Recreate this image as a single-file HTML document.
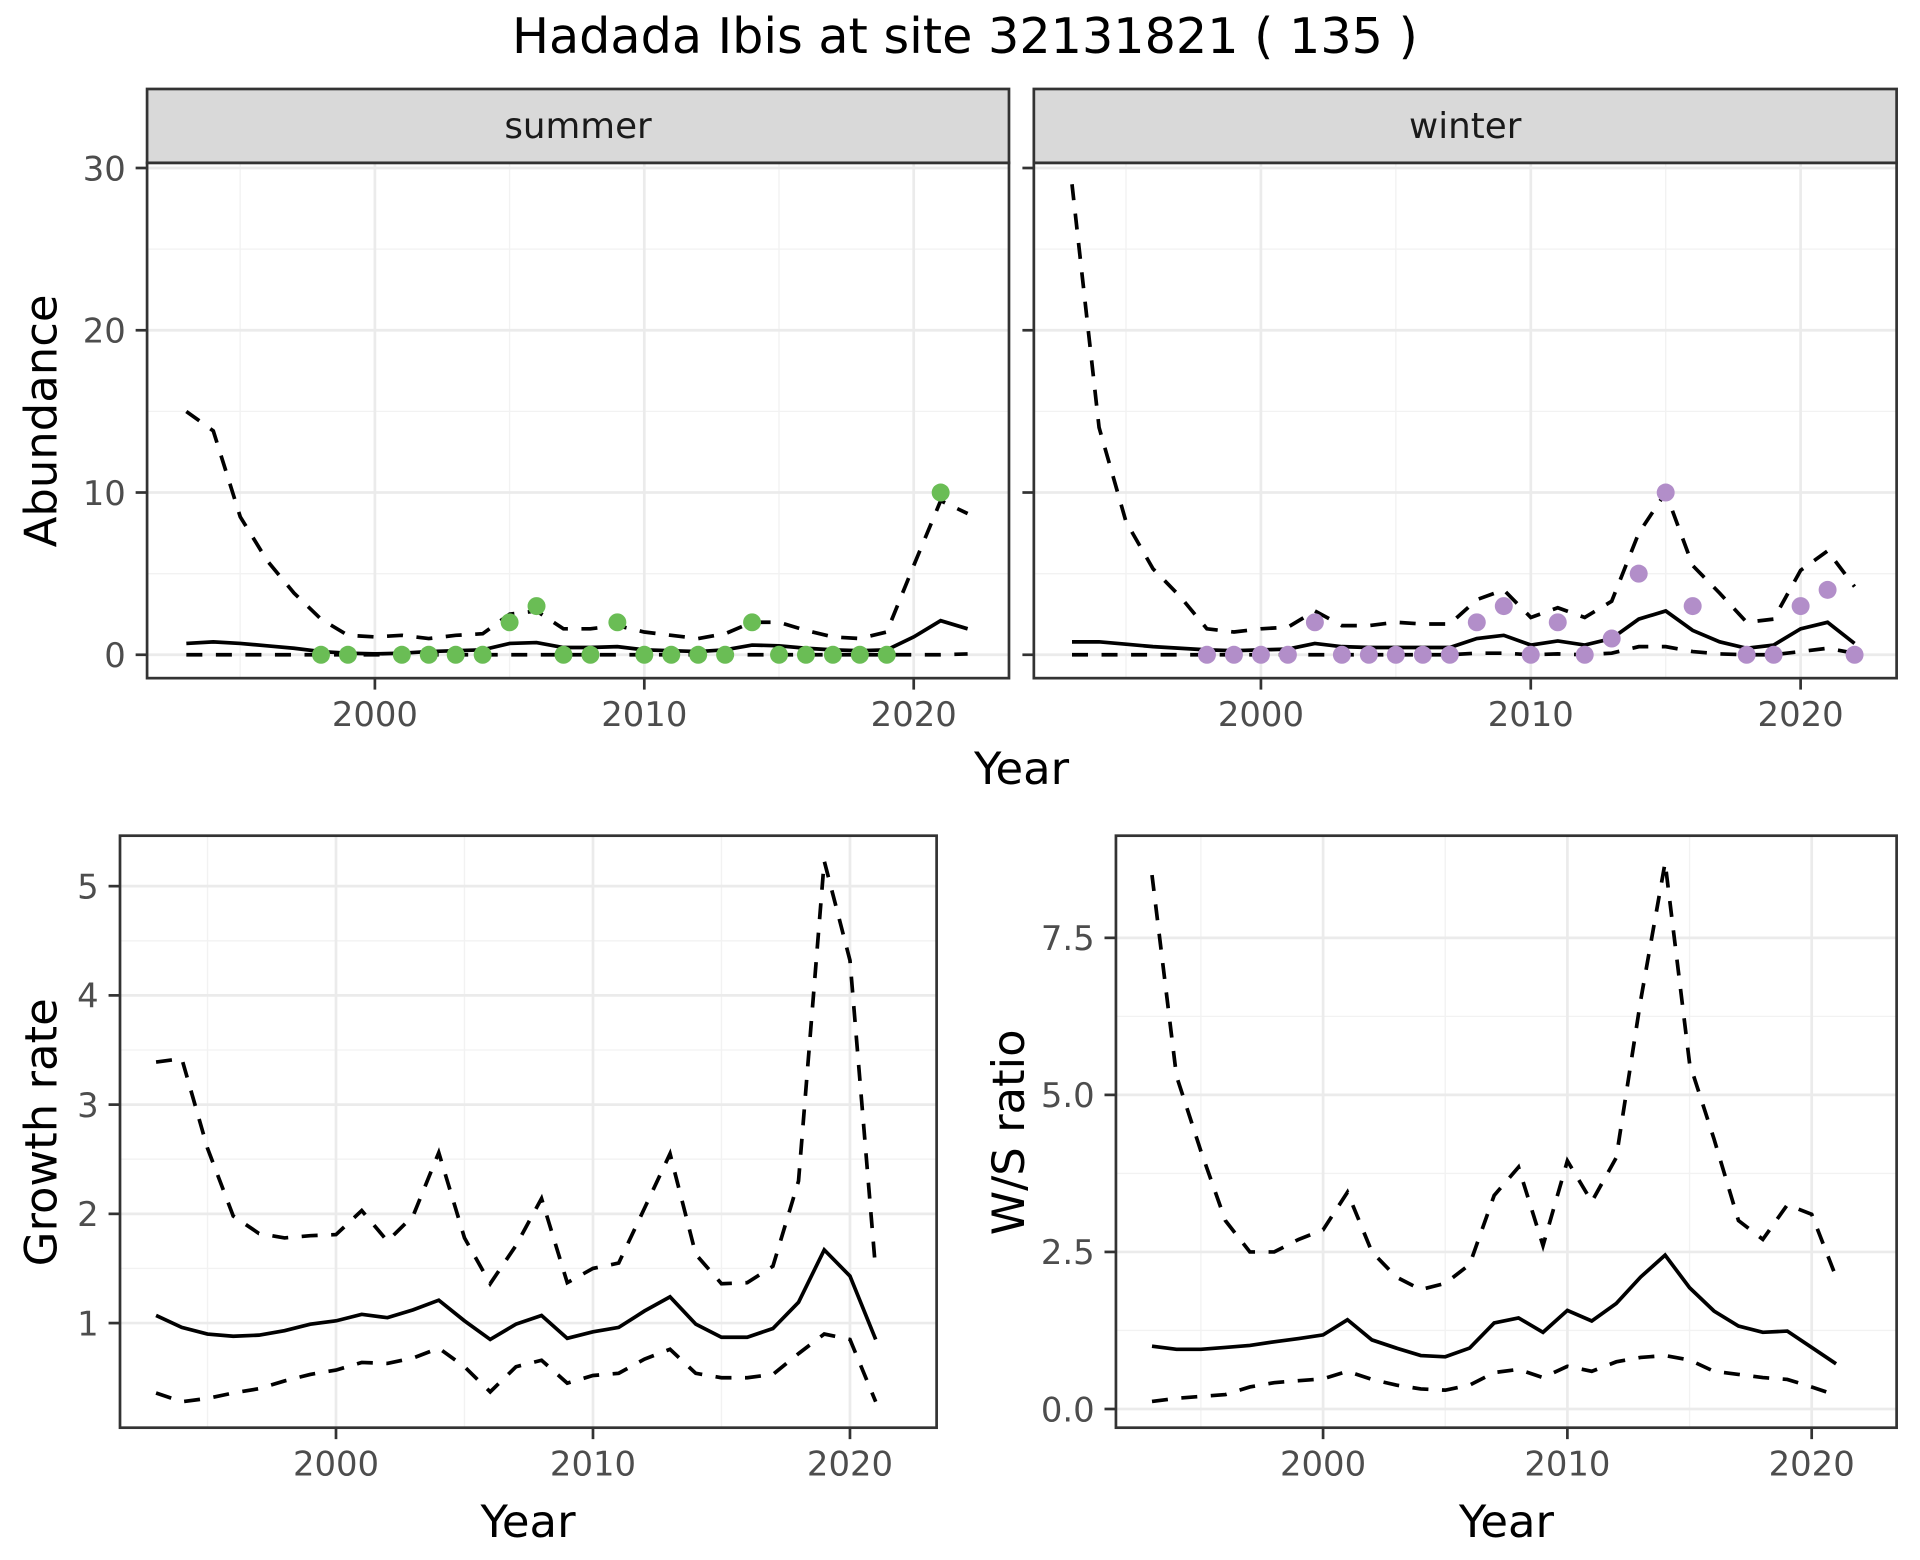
<!DOCTYPE html>
<html><head><meta charset="utf-8"><style>
html,body{margin:0;padding:0;background:#fff}
svg{display:block;font-family:"DejaVu Sans","Liberation Sans",sans-serif}
</style></head><body>
<svg id="c" width="1920" height="1560" viewBox="0 0 1560 1267.5" xmlns="http://www.w3.org/2000/svg">
<rect width="1560" height="1267.5" fill="#fff"/>
<text x="784" y="43" font-size="40" text-anchor="middle" fill="#000">Hadada Ibis at site 32131821 ( 135 )</text>
</svg>
<script>
const yrsA=[1993,1994,1995,1996,1997,1998,1999,2000,2001,2002,2003,2004,2005,2006,2007,2008,2009,2010,2011,2012,2013,2014,2015,2016,2017,2018,2019,2020,2021,2022];
const sumMean=[0.7,0.8,0.7,0.55,0.4,0.2,0.1,0.05,0.1,0.2,0.25,0.3,0.7,0.75,0.45,0.45,0.5,0.3,0.25,0.2,0.3,0.6,0.55,0.4,0.3,0.25,0.3,1.1,2.1,1.6];
const sumUpper=[15,13.8,8.5,5.8,3.8,2.2,1.2,1.1,1.2,1.0,1.2,1.3,2.5,2.7,1.6,1.6,1.8,1.4,1.2,1.0,1.3,2.0,2.0,1.5,1.1,1.0,1.4,5.5,9.5,8.7];
const sumLower=[0,0,0,0,0,0,0,0,0,0,0,0,0,0,0,0,0,0,0,0,0,0,0,0,0,0,0,0,0,0.05];
const sumPtYears=[1998,1999,2001,2002,2003,2004,2005,2006,2007,2008,2009,2010,2011,2012,2013,2014,2015,2016,2017,2018,2019,2021];
const sumPtVals=[0,0,0,0,0,0,2,3,0,0,2,0,0,0,0,2,0,0,0,0,0,10];
const winMean=[0.8,0.8,0.65,0.5,0.4,0.3,0.25,0.3,0.35,0.7,0.5,0.45,0.45,0.45,0.45,1.0,1.2,0.6,0.85,0.6,1.0,2.2,2.7,1.5,0.8,0.4,0.6,1.6,2.0,0.7];
const winUpper=[29,14,8.2,5.3,3.6,1.6,1.4,1.6,1.7,2.7,1.8,1.8,2.0,1.9,1.9,3.4,4.0,2.3,2.9,2.3,3.3,7.5,10.0,5.5,3.8,2.0,2.2,5.2,6.4,4.2];
const winLower=[0,0,0,0,0,0,0,0,0,0,0,0,0,0,0,0.1,0.1,0,0.05,0,0.1,0.5,0.5,0.2,0.05,0,0,0.2,0.4,0.1];
const winPtYears=[1998,1999,2000,2001,2002,2003,2004,2005,2006,2007,2008,2009,2010,2011,2012,2013,2014,2015,2016,2018,2019,2020,2021,2022];
const winPtVals=[0,0,0,0,2,0,0,0,0,0,2,3,0,2,0,1,5,10,3,0,0,3,4,0];
const yrsB=[1993,1994,1995,1996,1997,1998,1999,2000,2001,2002,2003,2004,2005,2006,2007,2008,2009,2010,2011,2012,2013,2014,2015,2016,2017,2018,2019,2020,2021];
const grMean=[1.07,0.96,0.9,0.88,0.89,0.93,0.99,1.02,1.08,1.05,1.12,1.21,1.02,0.85,0.99,1.07,0.86,0.92,0.96,1.11,1.24,0.99,0.87,0.87,0.95,1.19,1.67,1.43,0.85];
const grUpper=[3.39,3.42,2.6,1.98,1.82,1.78,1.8,1.81,2.03,1.75,1.98,2.56,1.78,1.36,1.71,2.14,1.37,1.5,1.55,2.05,2.55,1.63,1.36,1.37,1.52,2.3,5.23,4.32,1.48];
const grLower=[0.36,0.28,0.31,0.36,0.4,0.47,0.53,0.57,0.64,0.63,0.68,0.77,0.6,0.37,0.6,0.66,0.45,0.52,0.54,0.67,0.76,0.54,0.5,0.5,0.53,0.72,0.9,0.85,0.28];
const wsMean=[1.0,0.95,0.95,0.98,1.01,1.07,1.12,1.18,1.42,1.1,0.97,0.85,0.83,0.97,1.37,1.45,1.22,1.57,1.4,1.68,2.1,2.45,1.93,1.56,1.32,1.22,1.24,0.98,0.72];
const wsUpper=[8.5,5.3,4.1,3.0,2.5,2.5,2.7,2.85,3.45,2.5,2.1,1.9,2.0,2.3,3.4,3.85,2.6,3.95,3.3,4.0,6.5,8.7,5.5,4.3,3.0,2.7,3.25,3.1,2.1];
const wsLower=[0.12,0.17,0.2,0.23,0.35,0.42,0.45,0.48,0.6,0.47,0.38,0.32,0.3,0.38,0.58,0.63,0.5,0.68,0.6,0.75,0.82,0.85,0.78,0.6,0.55,0.5,0.47,0.35,0.22];
const xTicks=[2000,2010,2020];
const xMinor=[1995,2005,2015];
const abTicks=[0,10,20,30];
const abMinor=[5,15,25];
const grTicks=[1,2,3,4,5];
const grMinor=[1.5,2.5,3.5,4.5];
const wsTicks=[0,2.5,5,7.5];
const wsMinor=[1.25,3.75,6.25];
const wsLabels=["0.0","2.5","5.0","7.5"];

const svg=document.getElementById('c');
const NS='http://www.w3.org/2000/svg';
function mk(tag,attrs,parent){const e=document.createElementNS(NS,tag);for(const k in attrs)e.setAttribute(k,attrs[k]);(parent||svg).appendChild(e);return e;}
function lin(d0,d1,r0,r1){return v=>r0+(v-d0)*(r1-r0)/(d1-d0);}
const TK=9.3, FS=27.5;

function panel(name,box,sx,sy,yT,yM,yL,showY){
  const g=mk('g',{});
  
  
  mk('rect',{x:box.x0,y:box.y0,width:box.x1-box.x0,height:box.y1-box.y0,fill:'#fff'},g);
  yM.forEach(v=>mk('line',{x1:box.x0,x2:box.x1,y1:sy(v),y2:sy(v),stroke:'#f2f2f2','stroke-width':1.1},g));
  xMinor.forEach(v=>mk('line',{x1:sx(v),x2:sx(v),y1:box.y0,y2:box.y1,stroke:'#f2f2f2','stroke-width':1.1},g));
  yT.forEach(v=>mk('line',{x1:box.x0,x2:box.x1,y1:sy(v),y2:sy(v),stroke:'#ebebeb','stroke-width':2.2},g));
  xTicks.forEach(v=>mk('line',{x1:sx(v),x2:sx(v),y1:box.y0,y2:box.y1,stroke:'#ebebeb','stroke-width':2.2},g));
  xTicks.forEach(v=>{
    mk('line',{x1:sx(v),x2:sx(v),y1:box.y1,y2:box.y1+TK,stroke:'#333','stroke-width':2.2},g);
    const t=mk('text',{x:sx(v),y:box.y1+39,'font-size':FS,'text-anchor':'middle',fill:'#4d4d4d'},g);t.textContent=v;
    
    
  });
  yT.forEach((v,i)=>{
    mk('line',{x1:box.x0-TK,x2:box.x0,y1:sy(v),y2:sy(v),stroke:'#333','stroke-width':2.2},g);
    if(showY){const t=mk('text',{x:box.x0-TK-8,y:sy(v)+10,'font-size':FS,'text-anchor':'end',fill:'#4d4d4d'},g);t.textContent=yL[i];
    
    }
  });
  return g;
}
function border(g,box){mk('rect',{x:box.x0,y:box.y0,width:box.x1-box.x0,height:box.y1-box.y0,fill:'none',stroke:'#333','stroke-width':2.2},g);}
function line(g,xs,ys,sx,sy,dash,name){
  const d=xs.map((x,i)=>(i?'L':'M')+sx(x).toFixed(1)+','+sy(ys[i]).toFixed(1)).join('');
  const p=mk('path',{d:d,fill:'none',stroke:'#000','stroke-width':3,'stroke-dasharray':dash?'13 11':'none'},g);
  
  
}
function pts(g,xs,ys,sx,sy,col,name){
  xs.forEach((x,i)=>{const c=mk('circle',{cx:sx(x),cy:sy(ys[i]),r:7.3,fill:col},g);
    
    });
}
function strip(box,label,name){
  const r=mk('rect',{x:box.x0,y:72.3,width:box.x1-box.x0,height:60,fill:'#d9d9d9',stroke:'#333','stroke-width':2.2});
  
  
  const t=mk('text',{x:(box.x0+box.x1)/2,y:112,'font-size':29,'text-anchor':'middle',fill:'#1a1a1a'});t.textContent=label;
  
  
}
function title(x,y,txt,rot,name){
  const t=mk('text',{x:x,y:y,'font-size':36.5,'text-anchor':'middle',fill:'#000',transform:rot?`rotate(-90 ${x} ${y})`:''});t.textContent=txt;
  
  
}
const abL=abTicks.map(String);
// summer
const b1={x0:119.5,x1:819.8,y0:132.3,y1:551};
const sx1=lin(2000,2020,304.6,742.4), sy1=lin(0,30,532,136.5);
let g=panel('summer-panel',b1,sx1,sy1,abTicks,abMinor,abL,true);
line(g,yrsA,sumUpper,sx1,sy1,true,'summer-upper-ci');
line(g,yrsA,sumLower,sx1,sy1,true,'summer-lower-ci');
line(g,yrsA,sumMean,sx1,sy1,false,'summer-mean');
pts(g,sumPtYears,sumPtVals,sx1,sy1,'#6abd55','summer-count-point');
border(g,b1);strip(b1,'summer','summer-strip');
// winter
const b2={x0:840,x1:1541,y0:132.3,y1:551};
const sx2=lin(2000,2020,1024.5,1463);
g=panel('winter-panel',b2,sx2,sy1,abTicks,abMinor,abL,false);
line(g,yrsA,winUpper,sx2,sy1,true,'winter-upper-ci');
line(g,yrsA,winLower,sx2,sy1,true,'winter-lower-ci');
line(g,yrsA,winMean,sx2,sy1,false,'winter-mean');
pts(g,winPtYears,winPtVals,sx2,sy1,'#b28ec9','winter-count-point');
border(g,b2);strip(b2,'winter','winter-strip');
title(830,637,'Year',false,'top-x-axis-title');
title(46,342,'Abundance',true,'abundance-y-axis-title');
// growth
const b3={x0:97.5,x1:761,y0:679,y1:1160};
const sx3=lin(2000,2010,273,481.8), sy3=lin(1,5,1075,720);
g=panel('growth-rate-panel',b3,sx3,sy3,grTicks,grMinor,grTicks.map(String),true);
line(g,yrsB,grUpper,sx3,sy3,true,'growth-upper-ci');
line(g,yrsB,grLower,sx3,sy3,true,'growth-lower-ci');
line(g,yrsB,grMean,sx3,sy3,false,'growth-mean');
border(g,b3);
title(429,1249,'Year',false,'growth-x-axis-title');
title(46,920,'Growth rate',true,'growth-y-axis-title');
// ws
const b4={x0:906.7,x1:1541,y0:679,y1:1160};
const sx4=lin(2000,2020,1075,1472), sy4=lin(0,7.5,1144.8,762);
g=panel('ws-ratio-panel',b4,sx4,sy4,wsTicks,wsMinor,wsLabels,true);
line(g,yrsB,wsUpper,sx4,sy4,true,'ws-upper-ci');
line(g,yrsB,wsLower,sx4,sy4,true,'ws-lower-ci');
line(g,yrsB,wsMean,sx4,sy4,false,'ws-mean');
border(g,b4);
title(1224,1249,'Year',false,'ws-x-axis-title');
title(832,920,'W/S ratio',true,'ws-y-axis-title');
</script>
</body></html>
